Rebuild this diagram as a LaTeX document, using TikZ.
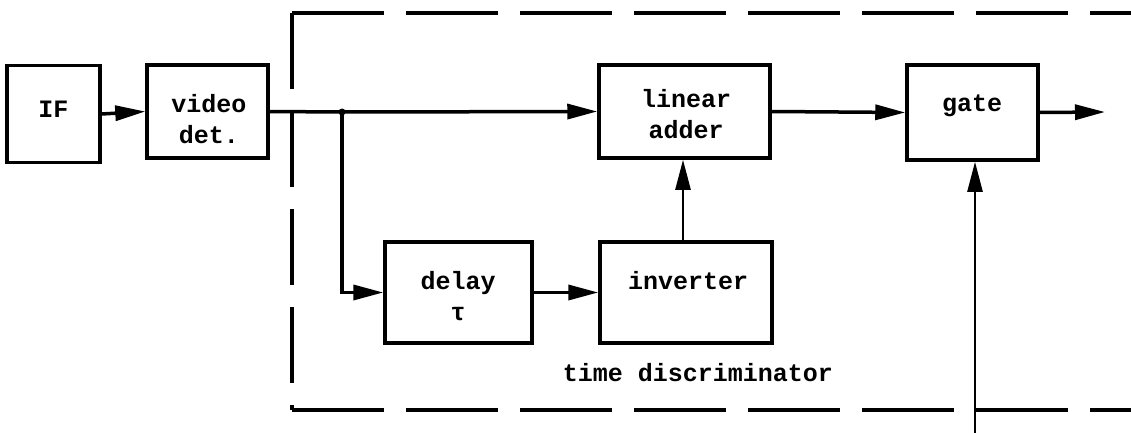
\documentclass[tikz,border=0pt]{standalone}
\usepackage{fontspec}
\setmonofont{Liberation Mono}
\usetikzlibrary{arrows.meta,calc}
\begin{document}
\begin{tikzpicture}[x=1pt,y=-1pt,
  line width=3.5pt,
  blk/.style={draw,rectangle,minimum width=#1},
  lbl/.style={font=\ttfamily\bfseries\fontsize{25}{31}\selectfont,align=center,inner sep=0pt},
  sig/.style={-{Triangle[length=30pt,width=15pt]}},
  frame/.style={line width=3.5pt,dash pattern=on 92pt off 22pt}]
\useasboundingbox (0,0) rectangle (1131,433);

% blocks
\node[blk=93pt,minimum height=97pt] (if) at (53.5,114) {};
\node[blk=121pt,minimum height=93pt] (vid) at (207.5,111.5) {};
\node[blk=171pt,minimum height=93pt] (add) at (684.5,111.5) {};
\node[blk=131pt,minimum height=95pt] (gate) at (972.5,112.5) {};
\node[blk=147pt,minimum height=101pt] (dly) at (458.5,292.5) {};
\node[blk=172pt,minimum height=101pt] (inv) at (686,292.5) {};

% block texts
\node[lbl] (tif) at (53.5,109) {IF};
\node[lbl] (tvid) at (209,119) {video\\det.};
\node[lbl] (tadd) at (686,114) {linear\\adder};
\node[lbl] (tgate) at (972,106) {gate};
\node[lbl] (tdly) at (458,296) {delay\\τ};
\node[lbl] (tinv) at (688,281) {inverter};
\node[lbl] (tdisc) at (698,373) {time discriminator};

% time discriminator frame
\coordinate (ftl) at (292,13);
\coordinate (ftr) at (1131,13);
\coordinate (fbl) at (292,410);
\coordinate (fbr) at (1131,410);
\draw[frame] (ftl) -- (ftr);
\draw[frame,dash pattern=on 76pt off 22pt] (ftl) -- (fbl);
\draw[frame] (fbl) -- (fbr);

% signal paths
\coordinate (jn) at (342,112);
\coordinate (out) at (1105,112);
\coordinate (gin) at (975,433);
\draw[sig] (if.east) -- (vid.west);
\draw (vid.east) -- (jn);
\draw[sig] (jn) -- (add.west);
\fill (jn) circle (3.5pt);
\draw[sig] (jn) |- (dly.west);
\draw[sig] (dly.east) -- (inv.west);
\draw[sig,line width=2.5pt] ($(inv.north)+(-3,0)$) -- ($(add.south)+(-1.5,0)$);
\draw[sig] (add.east) -- (gate.west);
\draw[sig] (gate.east) -- (out);
\draw[sig,line width=2.5pt] (gin) -- (gin |- gate.south);
\end{tikzpicture}
\end{document}
